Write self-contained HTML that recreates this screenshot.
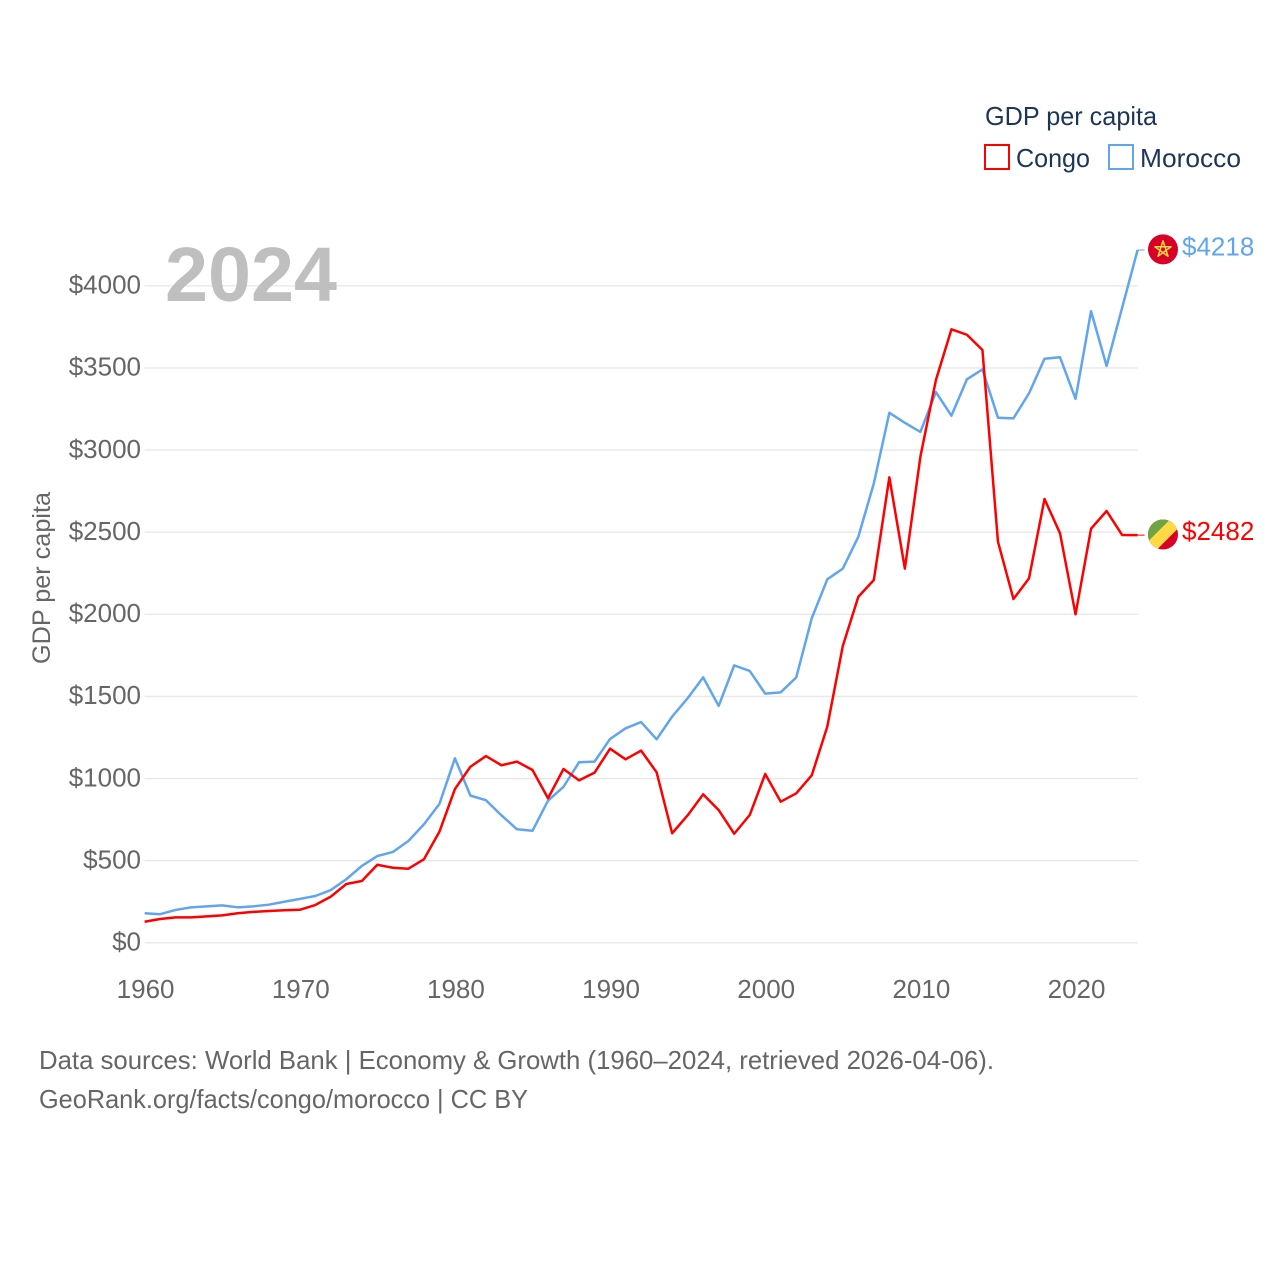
<!DOCTYPE html>
<html lang="en">
<head>
<meta charset="utf-8">
<title>GDP per capita: Congo and Morocco</title>
<style>
html,body{margin:0;padding:0;background:#fff;}
svg{display:block;font-family:"Liberation Sans",sans-serif;}
</style>
</head>
<body>
<svg id="chart" xmlns="http://www.w3.org/2000/svg" width="1280" height="1280" viewBox="0 0 1280 1280">
  <rect x="0" y="0" width="1280" height="1280" fill="#ffffff"/>
  <defs>
    <clipPath id="congo-clip"><circle cx="0" cy="0" r="15"/></clipPath>
  </defs>
  <g id="grid"></g>
  <g id="y-axis"></g>
  <g id="x-axis"></g>
  <text x="165" y="301" font-size="77" font-weight="700" fill="#bfbfbf" textLength="172" lengthAdjust="spacingAndGlyphs">2024</text>
  <text transform="translate(50,664) rotate(-90)" font-size="25" fill="#666666" textLength="172" lengthAdjust="spacingAndGlyphs">GDP per capita</text>
  <g id="series"></g>
  <g id="flag-morocco">
    <circle cx="0" cy="0" r="15" fill="#d80027"/>
    <polygon points="0,-8.5 5,6.9 -8.1,-2.6 8.1,-2.6 -5,6.9" fill="none" stroke="#ffda44" stroke-width="1.5" stroke-linejoin="round"/>
  </g>
  <g id="flag-congo">
    <g clip-path="url(#congo-clip)">
      <rect x="-16" y="-16" width="32" height="32" fill="#d80027"/>
      <polygon points="-16,-16 16,-16 -16,16" fill="#6da544"/>
      <polygon points="-16,8 8,-16 17,-16 17,-8 -8,17 -16,17" fill="#ffda44"/>
    </g>
  </g>
  <text id="label-morocco" x="1182" font-size="26" fill="#60a5ee"></text>
  <text id="label-congo" x="1182" font-size="26" fill="#ff0000"></text>
  <g>
    <text x="985" y="125" font-size="26" fill="#1d3557" textLength="172" lengthAdjust="spacingAndGlyphs">GDP per capita</text>
    <rect x="985" y="145" width="24" height="24" fill="none" stroke="#ff0000" stroke-width="2"/>
    <text x="1016" y="167" font-size="26" fill="#1d3557" textLength="74" lengthAdjust="spacingAndGlyphs">Congo</text>
    <rect x="1109" y="145" width="24" height="24" fill="none" stroke="#60a5ee" stroke-width="2"/>
    <text x="1140" y="167" font-size="26" fill="#1d3557" textLength="101" lengthAdjust="spacingAndGlyphs">Morocco</text>
  </g>
  <text x="39" y="1069" font-size="26" fill="#666666" textLength="955" lengthAdjust="spacingAndGlyphs">Data sources: World Bank | Economy &amp; Growth (1960–2024, retrieved 2026-04-06).</text>
  <text x="39" y="1108" font-size="26" fill="#666666" textLength="489" lengthAdjust="spacingAndGlyphs">GeoRank.org/facts/congo/morocco | CC BY</text>
</svg>
<script>
const years = [1960,1961,1962,1963,1964,1965,1966,1967,1968,1969,1970,1971,1972,1973,1974,1975,1976,1977,1978,1979,1980,1981,1982,1983,1984,1985,1986,1987,1988,1989,1990,1991,1992,1993,1994,1995,1996,1997,1998,1999,2000,2001,2002,2003,2004,2005,2006,2007,2008,2009,2010,2011,2012,2013,2014,2015,2016,2017,2018,2019,2020,2021,2022,2023,2024];
const congoValues = [128,145,155,155,161,167,180,188,194,198,201,230,281,358,376,475,457,451,508,676,936,1072,1137,1081,1103,1052,880,1058,989,1036,1182,1117,1170,1038,667,776,904,808,664,778,1028,859,910,1020,1316,1807,2107,2209,2834,2278,2959,3426,3735,3702,3609,2442,2093,2219,2702,2493,2000,2521,2629,2483,2482];
const moroccoValues = [180,174,200,216,222,228,216,222,232,250,267,285,321,387,468,528,553,620,721,845,1123,896,868,776,691,682,865,950,1099,1103,1241,1306,1344,1239,1377,1489,1616,1442,1689,1655,1517,1525,1616,1976,2213,2278,2472,2797,3227,3166,3110,3353,3209,3431,3491,3197,3193,3345,3556,3565,3312,3845,3512,3865,4218];
const yTicks = [0,500,1000,1500,2000,2500,3000,3500,4000];
const yTickLabels = ["$0","$500","$1000","$1500","$2000","$2500","$3000","$3500","$4000"];
const xTicks = [1960,1970,1980,1990,2000,2010,2020];
const xTickLabels = ["1960","1970","1980","1990","2000","2010","2020"];
const congoLabel = "$2482";
const moroccoLabel = "$4218";

const NS = "http://www.w3.org/2000/svg";
const plotLeft = 144.6, plotRight = 1137.6, plotBottom = 942.8, plotTop4000 = 285.8;
function xScale(year){ return plotLeft + (year - 1960) * (plotRight - plotLeft) / (2024 - 1960); }
function yScale(value){ return plotBottom - value * (plotBottom - plotTop4000) / 4000; }

const gridGroup = document.getElementById("grid");
const yAxisGroup = document.getElementById("y-axis");
const xAxisGroup = document.getElementById("x-axis");
const seriesGroup = document.getElementById("series");

yTicks.forEach(function(tick, i){
  const gridLine = document.createElementNS(NS, "line");
  
  
  gridLine.setAttribute("x1", plotLeft);
  gridLine.setAttribute("x2", plotRight);
  gridLine.setAttribute("y1", yScale(tick));
  gridLine.setAttribute("y2", yScale(tick));
  gridLine.setAttribute("stroke", "#e8e8e8");
  gridLine.setAttribute("stroke-width", "1.4");
  gridGroup.appendChild(gridLine);

  const label = document.createElementNS(NS, "text");
  
  
  label.setAttribute("x", 141);
  label.setAttribute("y", yScale(tick) + 7.8);
  label.setAttribute("text-anchor", "end");
  label.setAttribute("font-size", "26");
  label.setAttribute("fill", "#666666");
  label.textContent = yTickLabels[i];
  yAxisGroup.appendChild(label);
});

xTicks.forEach(function(tick, i){
  const label = document.createElementNS(NS, "text");
  
  
  label.setAttribute("x", xScale(tick) + 1);
  label.setAttribute("y", 998);
  label.setAttribute("text-anchor", "middle");
  label.setAttribute("font-size", "26");
  label.setAttribute("fill", "#666666");
  label.textContent = xTickLabels[i];
  xAxisGroup.appendChild(label);
});

function linePath(values){
  return values.map(function(v, i){
    return (i === 0 ? "M" : "L") + xScale(years[i]).toFixed(2) + "," + yScale(v).toFixed(2);
  }).join(" ");
}

const moroccoLine = document.createElementNS(NS, "path");


moroccoLine.setAttribute("d", linePath(moroccoValues));
moroccoLine.setAttribute("fill", "none");
moroccoLine.setAttribute("stroke", "#60a5ee");
moroccoLine.setAttribute("stroke-width", "2.5");
moroccoLine.setAttribute("stroke-linejoin", "round");
seriesGroup.appendChild(moroccoLine);

const congoLine = document.createElementNS(NS, "path");


congoLine.setAttribute("d", linePath(congoValues));
congoLine.setAttribute("fill", "none");
congoLine.setAttribute("stroke", "#ff0000");
congoLine.setAttribute("stroke-width", "2.5");
congoLine.setAttribute("stroke-linejoin", "round");
seriesGroup.appendChild(congoLine);

const lastMoroccoY = yScale(moroccoValues[moroccoValues.length - 1]);
const lastCongoY = yScale(congoValues[congoValues.length - 1]);
const lastX = xScale(years[years.length - 1]);

const moroccoLeader = document.createElementNS(NS, "line");


moroccoLeader.setAttribute("x1", lastX);
moroccoLeader.setAttribute("x2", lastX + 7);
moroccoLeader.setAttribute("y1", lastMoroccoY);
moroccoLeader.setAttribute("y2", lastMoroccoY);
moroccoLeader.setAttribute("stroke", "#60a5ee");
moroccoLeader.setAttribute("stroke-width", "1");
seriesGroup.appendChild(moroccoLeader);

const congoLeader = document.createElementNS(NS, "line");


congoLeader.setAttribute("x1", lastX);
congoLeader.setAttribute("x2", lastX + 7);
congoLeader.setAttribute("y1", lastCongoY);
congoLeader.setAttribute("y2", lastCongoY);
congoLeader.setAttribute("stroke", "#ff0000");
congoLeader.setAttribute("stroke-width", "1");
seriesGroup.appendChild(congoLeader);

document.getElementById("flag-morocco").setAttribute("transform", "translate(" + (lastX + 25.4) + "," + (lastMoroccoY - 0.6) + ")");
document.getElementById("flag-congo").setAttribute("transform", "translate(" + (lastX + 25.4) + "," + (lastCongoY - 0.6) + ")");

const moroccoText = document.getElementById("label-morocco");
moroccoText.setAttribute("y", lastMoroccoY + 5.6);
moroccoText.textContent = moroccoLabel;
const congoText = document.getElementById("label-congo");
congoText.setAttribute("y", lastCongoY + 5);
congoText.textContent = congoLabel;
</script>
</body>
</html>
